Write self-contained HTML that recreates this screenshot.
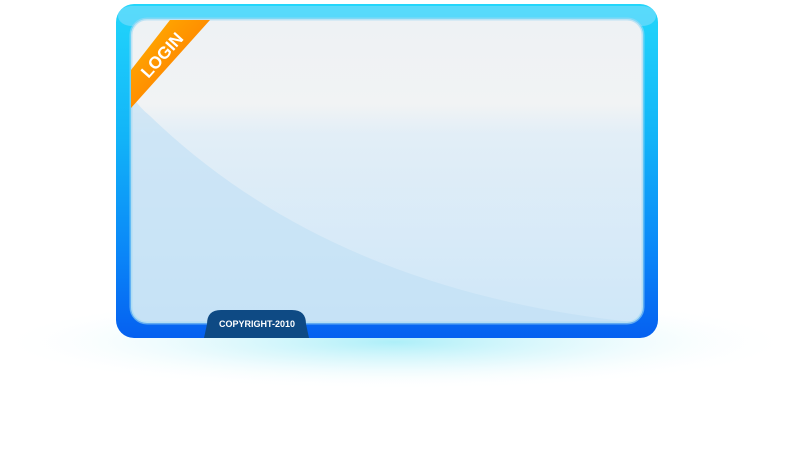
<!DOCTYPE html>
<html><head><style>
body{margin:0;width:795px;height:447px;background:#fff;overflow:hidden;font-family:"Liberation Sans",sans-serif;}
</style></head><body>
<svg width="795" height="447" viewBox="0 0 795 447">
<defs>
<radialGradient id="glow" cx="0.5" cy="0.5" r="0.5">
<stop offset="0" stop-color="#8ae8f6" stop-opacity="0.7"/>
<stop offset="0.5" stop-color="#cff5fb" stop-opacity="0.5"/>
<stop offset="1" stop-color="#fff" stop-opacity="0"/>
</radialGradient>
<linearGradient id="frame" x1="0" y1="0" x2="0" y2="1">
<stop offset="0" stop-color="#22d6fb"/>
<stop offset="0.4" stop-color="#12b4f8"/>
<stop offset="0.75" stop-color="#0a86f8"/>
<stop offset="1" stop-color="#0560f0"/>
</linearGradient>
<linearGradient id="inner" x1="0" y1="0" x2="0" y2="1">
<stop offset="0" stop-color="#eef2f4"/>
<stop offset="0.28" stop-color="#f1f3f4"/>
<stop offset="0.38" stop-color="#e2eef7"/>
<stop offset="1" stop-color="#cfe7f8"/>
</linearGradient>
<linearGradient id="rib" x1="0" y1="0" x2="1" y2="1">
<stop offset="0" stop-color="#ffb400"/>
<stop offset="1" stop-color="#ff6a00"/>
</linearGradient>
</defs>
<ellipse cx="395" cy="342" rx="400" ry="48" fill="url(#glow)"/>
<rect x="116" y="4" width="542" height="334" rx="18" fill="url(#frame)"/>
<rect x="118" y="6" width="538" height="20" rx="14" fill="#8fe0fb" opacity="0.5"/>
<rect x="131" y="19" width="512" height="304" rx="16" fill="url(#inner)"/>
<path d="M131 95 Q140 108 150 116 Q330 290 632 322 L147 322 Q131 322 131 306 Z" fill="#bfe0f5" opacity="0.6"/>
<rect x="131" y="19" width="512" height="304" rx="16" fill="none" stroke="#9fd8f3" stroke-width="3" opacity="0.6"/>
<polygon points="170,20 210,20 131,108 131,70" fill="url(#rib)"/>
<text x="0" y="0" transform="translate(163,56) rotate(-48)" text-anchor="middle" dominant-baseline="middle" font-family="Liberation Sans" font-weight="bold" font-size="17" fill="#fff">LOGIN</text>
<path d="M204 338 L207 324 Q207 310 221 310 L292 310 Q306 310 306 324 L309 338 Z" fill="#0e4a84"/>
<text x="257" y="327" text-anchor="middle" font-family="Liberation Sans" font-weight="bold" font-size="9" fill="#fff">COPYRIGHT-2010</text>
</svg>
</body></html>
